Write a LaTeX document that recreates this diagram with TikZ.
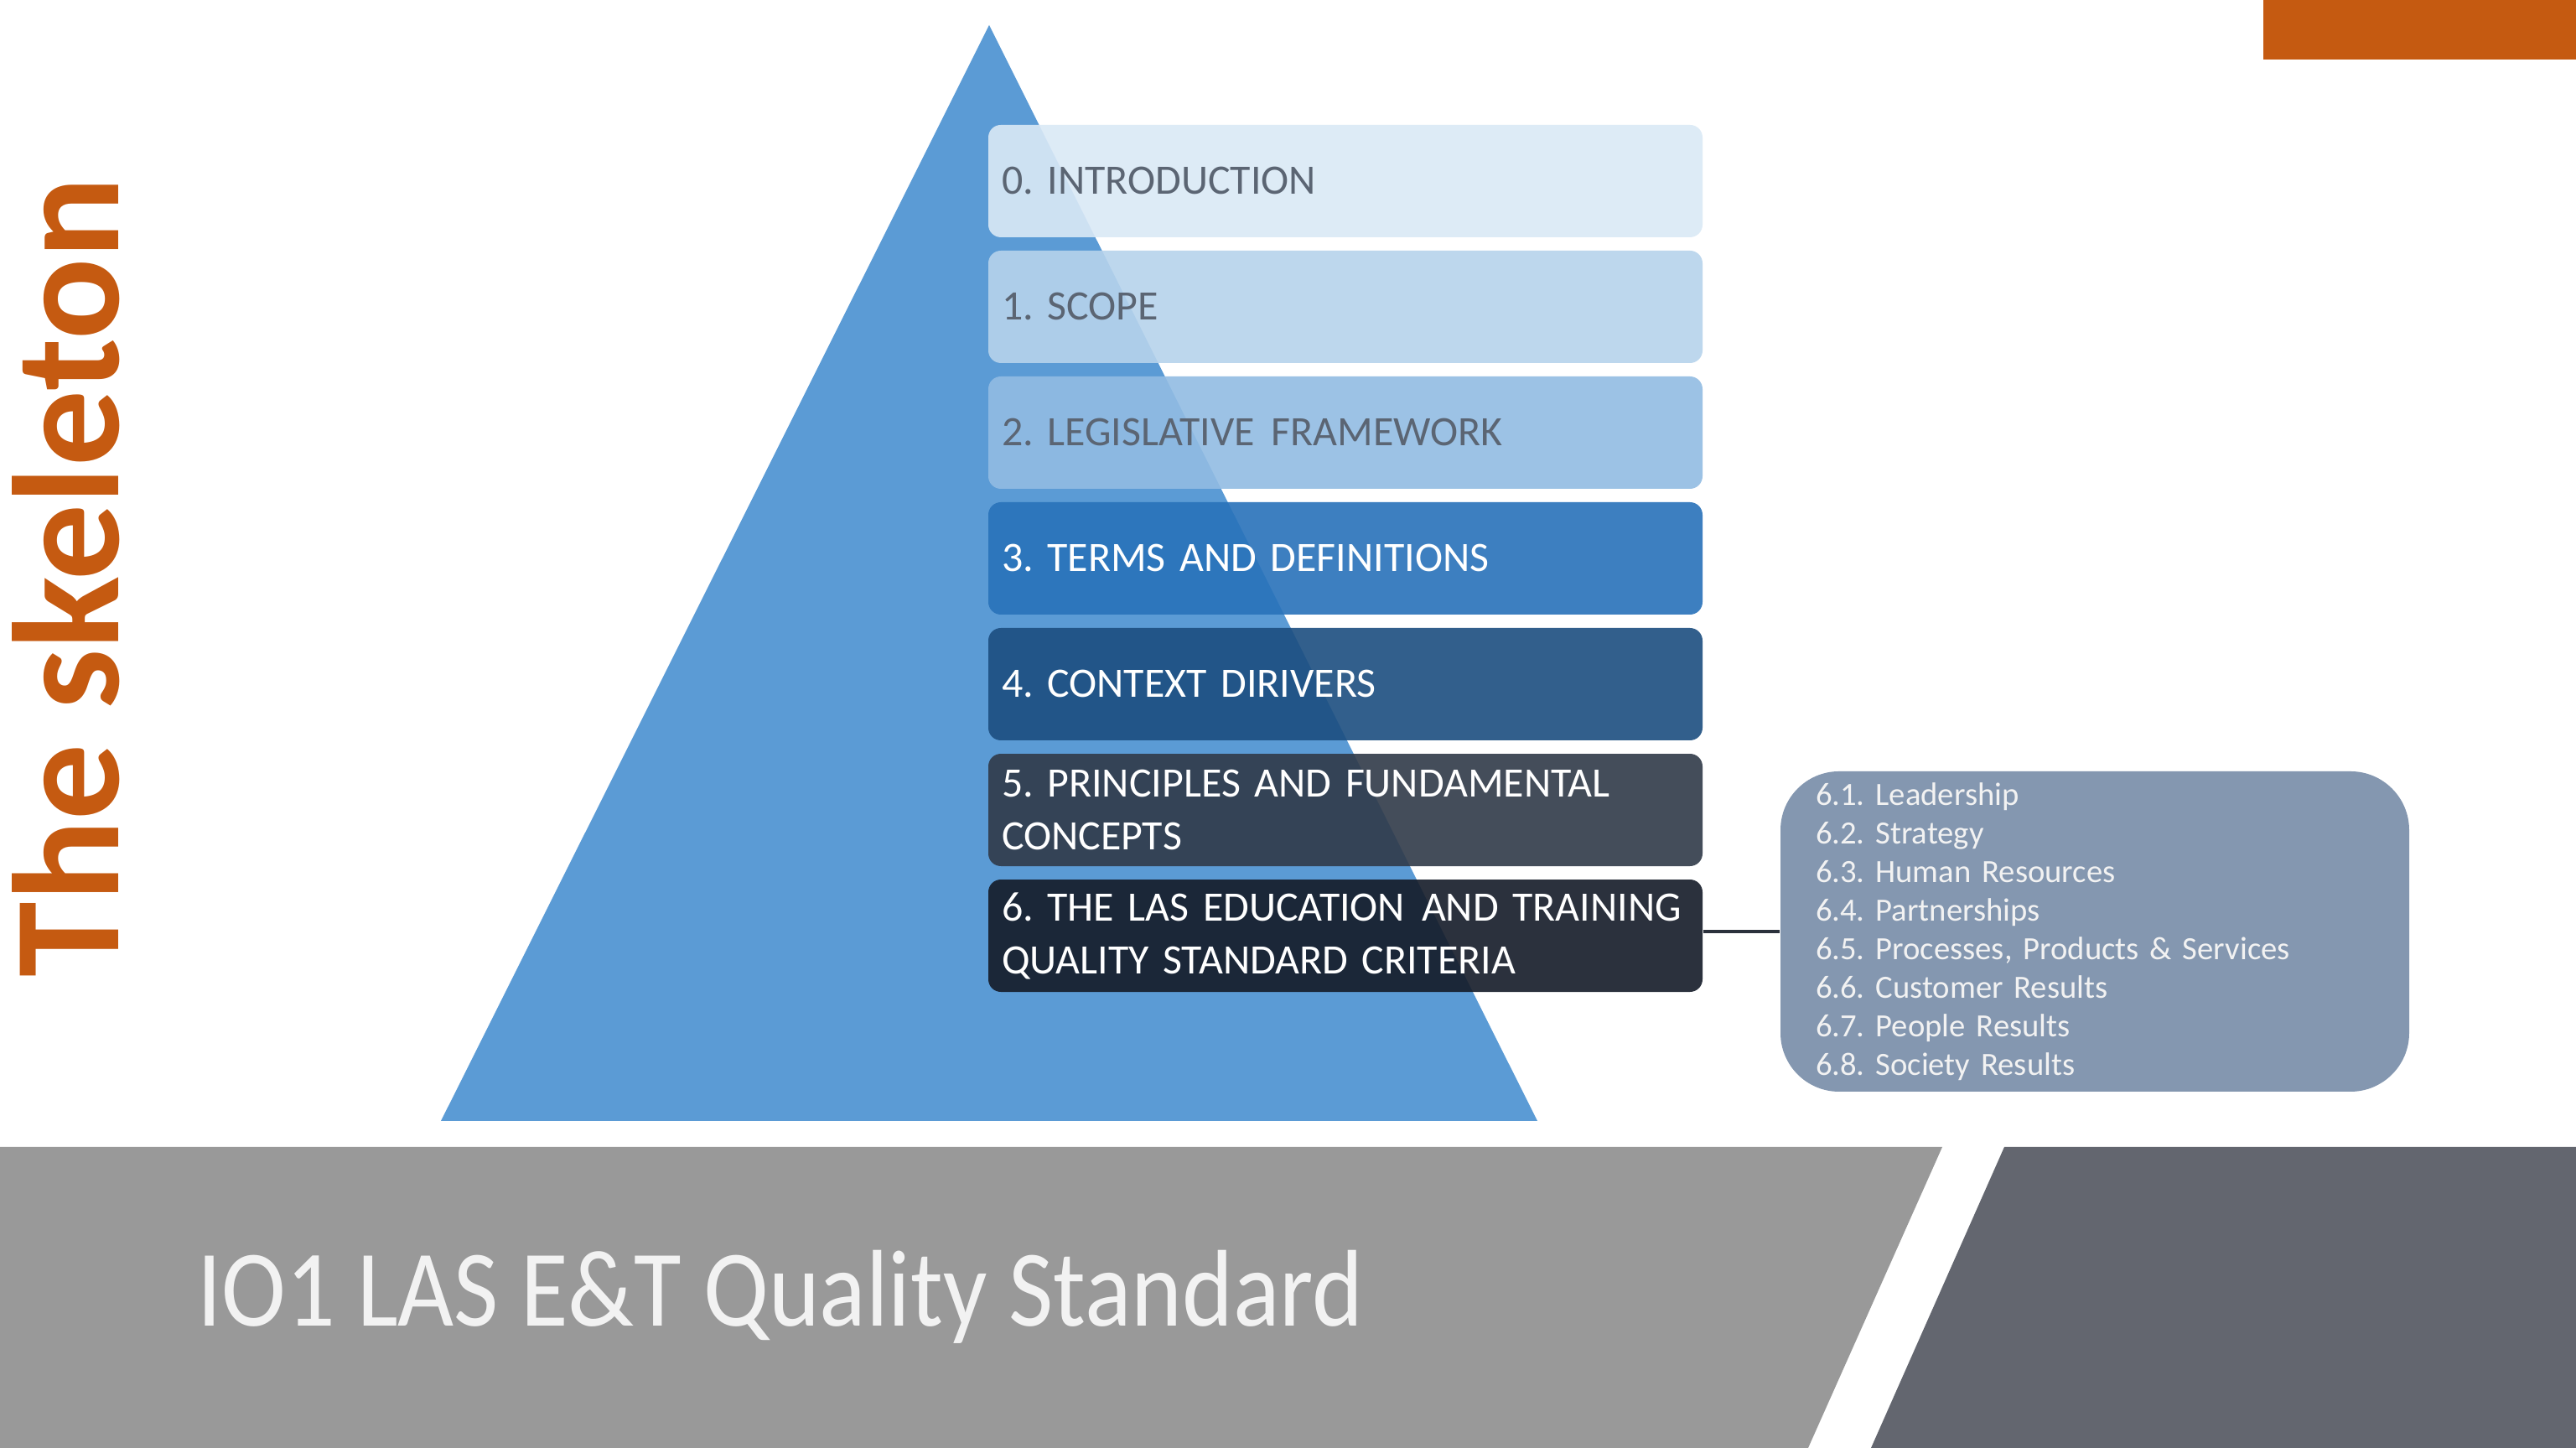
\documentclass[tikz,border=0pt]{standalone}
\usepackage{fontspec}
\setmainfont{Carlito}
\newfontfamily\bannerfont{Carlito}[FakeStretch=0.89]
\usepackage{tikz}
\usetikzlibrary{positioning}
\frenchspacing
\hyphenpenalty=10000

\definecolor{pyrblue}{HTML}{5B9BD5}
\definecolor{skelorange}{HTML}{C55A11}
\definecolor{lvlzero}{HTML}{DAE9F6}
\definecolor{lvlone}{HTML}{B6D3EC}
\definecolor{lvltwo}{HTML}{92BCE3}
\definecolor{lvlthree}{HTML}{2972BA}
\definecolor{lvlfour}{HTML}{1C4E80}
\definecolor{lvlfive}{HTML}{303A49}
\definecolor{lvlsix}{HTML}{151B28}
\definecolor{paletext}{HTML}{5B6573}
\definecolor{subgray}{HTML}{8497B0}
\definecolor{softwhite}{HTML}{F2F2F2}
\definecolor{bandlight}{HTML}{999999}
\definecolor{banddark}{HTML}{63666F}
\definecolor{linkdark}{HTML}{2B313C}

\tikzset{
  level/.style={rectangle, rounded corners=0.15cm, minimum width=8.52cm,
    minimum height=1.34cm, text width=8.2cm, inner xsep=0.16cm, inner ysep=0.05cm,
    align=left, fill opacity=0.9, text opacity=1,
    font=\fontsize{14.2}{17.9}\selectfont},
  subcrit/.style={rectangle, rounded corners=0.7cm, fill=subgray, text=softwhite,
    minimum width=7.5cm, minimum height=3.82cm, text width=6.66cm, inner xsep=0.42cm,
    align=left, font=\fontsize{11}{13.1}\selectfont},
}

\begin{document}
\begin{tikzpicture}[node distance=0.146cm]
\useasboundingbox (0,0) rectangle (30.73,17.27);
\fill[white] (0,0) rectangle (30.73,17.27);

% corner bar and bottom bands
\fill[skelorange] (27.00,16.56) rectangle (30.73,17.27);
\fill[bandlight] (0,0) -- (0,3.59) -- (23.17,3.59) -- (21.57,0) -- cycle;
\fill[banddark] (22.32,0) -- (23.91,3.59) -- (30.73,3.59) -- (30.73,0) -- cycle;

% pyramid
\fill[pyrblue] (5.26,3.90) -- (18.34,3.90) -- (11.80,16.97) -- cycle;

% levels
\node[level, fill=lvlzero, text=paletext] (intro) at (16.05,15.11) {0. INTRODUCTION};
\node[level, fill=lvlone, text=paletext, below=of intro] (scope) {1. SCOPE};
\node[level, fill=lvltwo, text=paletext, below=of scope] (legis) {2. LEGISLATIVE\hspace{0.4em}FRAMEWORK};
\node[level, fill=lvlthree, text=white, below=of legis] (terms) {3. TERMS AND DEFINITIONS};
\node[level, fill=lvlfour, text=white, below=of terms] (context) {4. CONTEXT DIRIVERS};
\node[level, fill=lvlfive, text=white, below=of context] (principles) {5. PRINCIPLES AND FUNDAMENTAL\\CONCEPTS};
\node[level, fill=lvlsix, text=white, below=of principles] (criteria) {6. THE LAS EDUCATION\hspace{0.4em}AND TRAINING\\QUALITY STANDARD CRITERIA};

% sub-criteria
\node[subcrit] (subcriteria) at (24.99,6.16) {6.1. Leadership\\6.2. Strategy\\6.3. Human Resources\\6.4. Partnerships\\6.5. Processes, Products \& Services\\6.6. Customer Results\\6.7. People Results\\6.8. Society Results};
\draw[linkdark, line width=1pt] (subcriteria.west -| criteria.east) -- (subcriteria.west);

% titles
\node[rotate=90, anchor=base west, inner sep=0, text=skelorange,
  font=\bfseries\fontsize{51.5}{60}\selectfont] (skeleton) at (1.41,5.61) {The skeleton};
\node[anchor=base west, inner sep=0, text=softwhite,
  font=\bannerfont\fontsize{37}{44}\selectfont] (banner) at (2.35,1.45) {IO1 LAS E\&T Quality Standard};
\end{tikzpicture}
\end{document}
